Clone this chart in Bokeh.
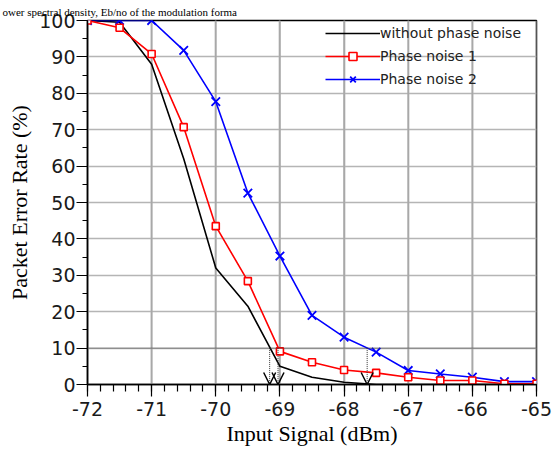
from bokeh.plotting import figure
from bokeh.models import (Legend, LegendItem, Span, Arrow, OpenHead, Title,
                          SingleIntervalTicker)
from bokeh.embed import file_html
from bokeh.resources import INLINE

# ---- data ----
input_dbm = [-72, -71.5, -71, -70.5, -70, -69.5, -69, -68.5, -68, -67.5, -67, -66.5, -66, -65.5, -65]
without_noise = [100, 99.5, 88, 62, 32, 21.5, 5, 2, 0.6, 0, 0, 0, 0, 0, 0]
phase_noise_1 = [100, 98, 90.8, 70.7, 43.5, 28.4, 9.1, 6.1, 4.0, 3.2, 2.0, 1.1, 1.1, 0.2, 0.2]
phase_noise_2 = [100, 100, 100, 91.8, 77.7, 52.6, 35.3, 19.0, 13.0, 8.9, 3.85, 2.9, 2.0, 0.8, 0.8]
series_names = ["without phase noise", "Phase noise 1", "Phase noise 2"]
threshold_per = 10
threshold_x = [-69.16, -69.03, -67.64]
x_ticks = [-72, -71, -70, -69, -68, -67, -66, -65]
y_min, y_max = 0, 100
header_text = "ower spectral density, Eb/no of the modulation forma"

p = figure(width=558, height=452, x_range=(-72, -65), y_range=(y_min, y_max),
           output_backend="svg", toolbar_location=None,
           min_border_left=87, min_border_right=22, min_border_top=20, min_border_bottom=68)
p.background_fill_color = "white"
p.border_fill_color = "white"
p.outline_line_color = "black"
p.outline_line_width = 1.5

# axes
tick_font = "DejaVu Sans"
p.xaxis.ticker = SingleIntervalTicker(interval=1, num_minor_ticks=5)
p.yaxis.ticker = SingleIntervalTicker(interval=10, num_minor_ticks=2)
p.xaxis.major_label_overrides = {t: str(t) for t in x_ticks}
for ax in (p.xaxis[0], p.yaxis[0]):
    ax.axis_line_color = "black"
    ax.axis_line_width = 1.5
    ax.major_tick_line_color = "black"
    ax.minor_tick_line_color = "black"
    ax.major_tick_line_width = 1.2
    ax.minor_tick_line_width = 1.2
    ax.major_tick_in = 0
    ax.minor_tick_in = 0
    ax.major_label_text_font = tick_font
    ax.major_label_text_font_size = "19px"
    ax.major_label_text_color = "#1a1a1a"
    ax.axis_label_text_font = "Liberation Serif"
    ax.axis_label_text_font_size = "22px"
    ax.axis_label_text_font_style = "normal"
    ax.axis_label_text_color = "black"
p.xaxis.major_tick_out = 12
p.xaxis.minor_tick_out = 7
p.xaxis.major_label_standoff = 5
p.xaxis.axis_label_standoff = 2
p.xaxis.axis_label = "Input Signal (dBm)"
p.yaxis.major_tick_out = 11
p.yaxis.minor_tick_out = 5
p.yaxis.major_label_standoff = 1
p.yaxis.axis_label_standoff = 4
p.yaxis.axis_label = "Packet Error Rate (%)"

# grid
p.xgrid.grid_line_color = "#a8a8a8"
p.xgrid.grid_line_width = 1.6
p.ygrid.grid_line_color = "#b5b5b5"
p.ygrid.grid_line_width = 1.6
p.segment(x0=x_ticks, y0=[y_min] * len(x_ticks), x1=x_ticks, y1=[y_max] * len(x_ticks),
          line_color="#a8a8a8", line_width=1.6)

# threshold dotted line and arrows
p.add_layout(Span(location=threshold_per, dimension="width", line_color="#333333",
                  line_dash="1 1", line_width=1))
for xv in threshold_x:
    p.add_layout(Arrow(x_start=xv, y_start=threshold_per, x_end=xv, y_end=0,
                       line_color="#333333", line_dash="1 1", line_width=1,
                       end=OpenHead(size=12, line_color="black", line_width=1.5)))

# series
r_black = p.line(input_dbm, without_noise, line_color="black", line_width=1.6)
r_blue_l = p.line(input_dbm, phase_noise_2, line_color="#0000ff", line_width=1.6)
r_blue_m = p.scatter(input_dbm, phase_noise_2, marker="x", size=12, line_color="#0000ff", line_width=1.8)
r_red_l = p.line(input_dbm, phase_noise_1, line_color="#ff0000", line_width=1.6)
r_red_m = p.scatter(input_dbm, phase_noise_1, marker="square", size=7, line_color="#ff0000",
                    fill_color="white", line_width=1.6)

legend = Legend(items=[
    LegendItem(label=series_names[0], renderers=[r_black]),
    LegendItem(label=series_names[1], renderers=[r_red_l, r_red_m]),
    LegendItem(label=series_names[2], renderers=[r_blue_l, r_blue_m]),
], location=(238, 295))
legend.background_fill_alpha = 0
legend.border_line_alpha = 0
legend.label_text_font = tick_font
legend.label_text_font_size = "14px"
legend.label_text_color = "#222222"
legend.glyph_width = 55
legend.glyph_height = 20
legend.label_height = 20
legend.label_standoff = 0
legend.padding = 0
legend.margin = 0
legend.spacing = 3
p.add_layout(legend)

# header line from the surrounding page (shown in the top border)
p.add_layout(Title(text=header_text, align="left", offset=-85, standoff=6,
                   text_font="Liberation Serif", text_font_size="11px",
                   text_font_style="normal", text_color="black"), "above")

open("out.html", "w").write(file_html(p, INLINE))
